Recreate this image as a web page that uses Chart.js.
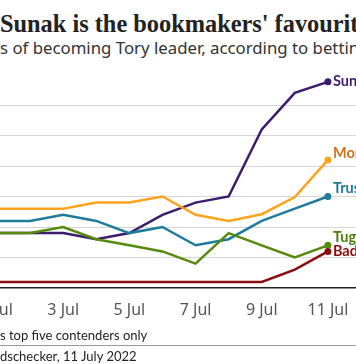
<!DOCTYPE html>
<html><head><meta charset="utf-8">
<script src="https://cdn.jsdelivr.net/npm/chart.js@4"></script>
<style>
html,body{margin:0;padding:0;background:#fff;width:356px;height:364px;overflow:hidden;position:relative}
.t{position:absolute;left:0;white-space:nowrap}
.pre{position:absolute;right:100%;top:0}
#title{top:12px;font:bold 24.35px/24px "Liberation Serif";color:#222}
#sub{top:38px;font:16.8px/20px "Noto Sans";color:#333}
#chartbox{position:absolute;left:-40px;top:60px;width:440px;height:270px}
#note{top:327px;font:13px/16px "Lato";color:#222}
#rule{position:absolute;left:0;width:356px;top:345px;height:1px;background:#999}
#src{top:348px;font:13px/16px "Lato";color:#222}
</style></head>
<body>
<div id="title" class="t"><span class="pre">Rishi&nbsp;</span>Sunak is the bookmakers' favourite</div>
<div id="sub" class="t"><span class="pre">Implied chance</span>s of becoming Tory leader, according to betting odds</div>
<div id="chartbox"><canvas id="c" width="440" height="270"></canvas></div>
<div id="note" class="t"><span class="pre">Note: Show</span>s top five contenders only</div>
<div id="rule"></div>
<div id="src" class="t"><span class="pre">Source: Od</span>dschecker, 11 July 2022</div>
<script>
const days = [1,2,3,4,5,6,7,8,9,10,11];
const dayLabels = ['1 Jul','2 Jul','3 Jul','4 Jul','5 Jul','6 Jul','7 Jul','8 Jul','9 Jul','10 Jul','11 Jul'];
const tickDays = [1,3,5,7,9,11];
const yGrid = [0,5,10,15,20,25,30];
const names = ['Sunak','Mordaunt','Truss','Tugendhat','Badenoch'];
const sunak     = [9, 9, 9, 8, 9, 12, 14, 15, 26, 32, 33.8];
const mordaunt  = [13, 13, 13, 14, 14, 15, 12, 11, 12.1, 14.9, 21];
const truss     = [11, 11, 12, 11, 9, 10, 7, 8, 11, 13, 15];
const tugendhat = [9, 9, 10, 8, 7, 6, 4, 9, 7, 5, 7];
const badenoch  = [1, 1, 1, 1, 1, 1, 1, 1, 1, 3, 6];

const series = [sunak, mordaunt, truss, tugendhat, badenoch];
const lineColors = ['#3d1c6d','#fca41c','#1d7b9b','#558a0d','#8c0c10'];
const labelColors = ['#3d1c6d','#d2701c','#1d7b9b','#4f800c','#8c0c10'];
const labelDy = [0,-7,-8,-8,0];

const endLabels = {
  id:'endLabels',
  afterDatasetsDraw(chart){
    const ctx = chart.ctx;
    ctx.save();
    ctx.font = 'bold 14.5px "Lato"';
    ctx.textBaseline = 'middle';
    ctx.textAlign = 'left';
    chart.data.datasets.forEach((ds,i)=>{
      const k = names.indexOf(ds.label);
      const meta = chart.getDatasetMeta(i);
      const p = meta.data[meta.data.length-1];
      ctx.fillStyle = labelColors[k];
      ctx.fillText(ds.label, p.x+5, p.y+labelDy[k]);
    });
    ctx.restore();
  }
};

new Chart(document.getElementById('c'), {
  type:'line',
  data:{
    datasets: series.map((s,i)=>({
      label: names[i],
      data: s.map((v,j)=>({x:days[j], y:v})),
      borderColor: lineColors[i],
      backgroundColor: lineColors[i],
      borderWidth: 2.5,
      tension: 0,
      pointRadius: ctx => ctx.dataIndex === s.length-1 ? 3.5 : 0,
      pointHoverRadius: 0,
      pointBorderWidth: 0,
      clip: false
    })).reverse()
  },
  options:{
    responsive:false,
    animation:false,
    devicePixelRatio:1,
    events:[],
    layout:{padding:{left:37,right:39,top:14.5,bottom:0}},
    plugins:{legend:{display:false},tooltip:{enabled:false}},
    scales:{
      x:{
        type:'linear', min:1, max:12,
        grid:{display:false, drawTicks:false},
        border:{display:false},
        afterBuildTicks: sc => { sc.ticks = tickDays.map(v=>({value:v})); },
        afterFit: sc => { sc.height = 42; },
        ticks:{
          autoSkip:false, maxRotation:0, padding:13,
          color:'#555', font:{family:'Noto Sans', size:16},
          callback: v => dayLabels[days.indexOf(v)]
        }
      },
      y:{
        min:0, max:35,
        afterBuildTicks: sc => { sc.ticks = yGrid.map(v=>({value:v})); },
        ticks:{display:false},
        border:{display:false},
        grid:{
          drawTicks:false,
          color: c => c.tick && c.tick.value===0 ? '#222' : '#d6d6d6',
          lineWidth: c => c.tick && c.tick.value===0 ? 1.5 : 1
        }
      }
    }
  },
  plugins:[endLabels]
});
</script>
</body></html>
